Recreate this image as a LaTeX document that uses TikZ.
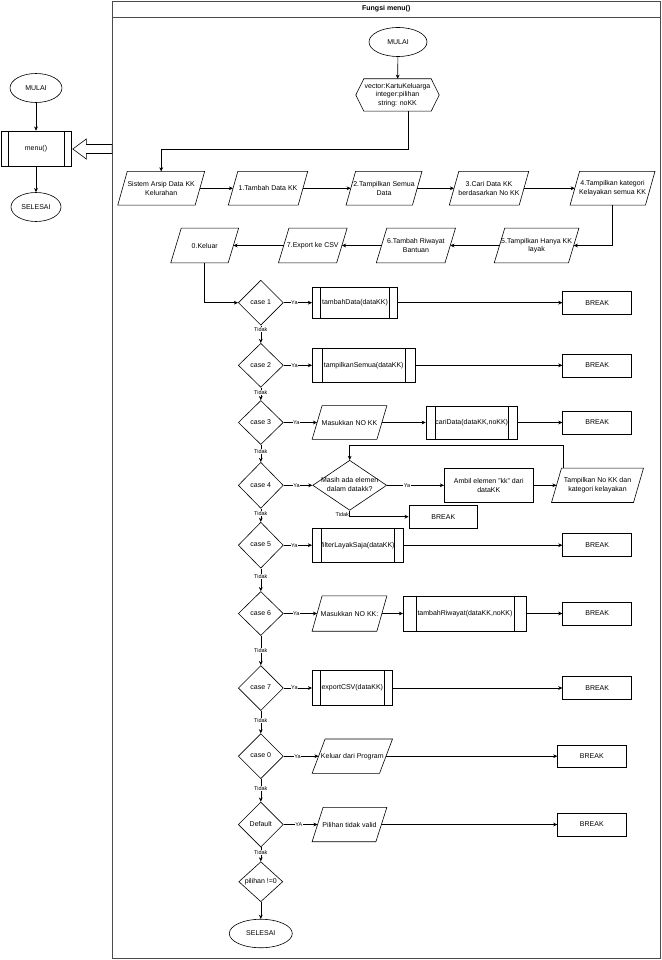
\documentclass[tikz,border=0pt]{standalone}
\usepackage{fontspec}
\setmainfont{Liberation Sans}
\usetikzlibrary{shapes.geometric,arrows.meta,calc}
\newcommand{\dtx}[1]{\makebox[0pt]{\begin{tabular}{@{}c@{}}#1\end{tabular}}}
\tikzset{
  base/.style={font=\fontsize{7}{8.5}\selectfont, inner sep=1pt, align=center, text=black},
  sz/.style 2 args={minimum width=#1, minimum height=#2},
  shp/.style={draw=black, line width=0.6pt},
  rbox/.style 2 args={base, rectangle, shp, sz={#1}{#2}},
  pbox/.style 2 args={base, rectangle, sz={#1}{#2}},
  hbox/.style 2 args={base, rectangle, sz={#1}{#2}},
  ell/.style 2 args={base, ellipse, shp, sz={#1}{#2}},
  dia/.style 2 args={base, diamond, shp, sz={#1}{#2}, inner sep=0pt},
  arr/.style={line width=0.6pt, -{Stealth[length=4.2pt,width=3.8pt]}},
  ln/.style={line width=0.6pt},
  lab/.style={font=\fontsize{5.5}{6}\selectfont, fill=white, inner sep=0.5pt, text=black},
  framebox/.style={draw=black!70, line width=0.9pt, inner sep=0pt},
}
\begin{document}
\begin{tikzpicture}[x=1pt,y=-1pt]
\useasboundingbox (0,0) rectangle (661,960);

% ---------- left column ----------
\node[ell={52}{29}] (mulaiL) at (36,88) {MULAI};
\node[rbox={70}{35}] (menuL) at (36,148.5) {menu()};
\node[ell={50}{29}] (selesaiL) at (36,207) {SELESAI};

% ---------- frame ----------
\node[framebox, sz={547.5}{957.5}] (frame) at (386.25,479.75) {};
\node[base, font=\bfseries\fontsize{7}{8.5}\selectfont] (title) at (386.25,9) {Fungsi menu()};
\draw[draw=black!70, line width=0.9pt] (frame.north west |- 0,17) -- (frame.north east |- 0,17);

% ---------- top ----------
\node[ell={58}{29}] (mulai) at (398,42) {MULAI};
\node[hbox={83}{32}] (vars) at (397.5,95) {vector:KartuKeluarga\\integer:pilihan\\string: noKK};

% ---------- menu rows ----------
\node[pbox={77}{33.3}] (p0) at (161.2,188.3) {Sistem Arsip Data KK\\Kelurahan};
\node[pbox={69.5}{33.3}] (p1) at (268,188.3) {1.Tambah Data KK};
\node[pbox={66}{33.3}] (p2) at (384,188.3) {2.Tampilkan Semua\\Data};
\node[pbox={69.5}{33.3}] (p3) at (489,188.3) {3.Cari Data KK\\berdasarkan No KK};
\node[pbox={75}{33.3}] (p4) at (612.5,188.3) {4.Tampilkan kategori\\Kelayakan semua KK};
\node[pbox={73.8}{34.4}] (p5) at (536.6,245.5) {5.Tampilkan Hanya KK\\layak};
\node[pbox={68.3}{34.4}] (p6) at (415.9,245.5) {6.Tambah Riwayat\\Bantuan};
\node[pbox={57.8}{34.4}] (p7) at (312.8,245.5) {7.Export ke CSV};
\node[pbox={57}{34.4}] (p8) at (204.7,245.5) {0.Keluar};

% ---------- case diamonds ----------
\node[dia={45}{45}] (c1) at (260.8,302.7) {\dtx{case 1}};
\node[dia={45}{44}] (c2) at (260.8,365.3) {\dtx{case 2}};
\node[dia={45}{44}] (c3) at (260.8,422.5) {\dtx{case 3}};
\node[dia={45}{46}] (c4) at (260.8,485.3) {\dtx{case 4}};
\node[dia={45}{46}] (c5) at (260.8,545.2) {\dtx{case 5}};
\node[dia={45}{44}] (c6) at (260.8,613.5) {\dtx{case 6}};
\node[dia={45}{45}] (c7) at (260.8,688) {\dtx{case 7}};
\node[dia={45}{45}] (c0) at (260.8,756.2) {\dtx{case 0}};
\node[dia={45}{45}] (cd) at (260.8,824.5) {\dtx{Default}};
\node[dia={44}{40}] (cp) at (260.8,881.7) {\dtx{pilihan !=0}};
\node[ell={63}{28.5}] (selesai) at (260.8,933.5) {SELESAI};

% ---------- row contents ----------
\node[rbox={85.4}{31.6}] (f1) at (355,302.7) {tambahData(dataKK)};
\node[rbox={69}{23}] (b1) at (597.2,302.7) {BREAK};

\node[rbox={102.7}{34}] (f2) at (363.7,365.3) {tampilkanSemua(dataKK)};
\node[rbox={69}{23}] (b2) at (597.2,365.3) {BREAK};

\node[pbox={64.4}{33.4}] (in3) at (349.5,422.5) {Masukkan NO KK};
\node[rbox={91.3}{33.4}] (f3) at (471.7,422.5) {cariData(dataKK,noKK)};
\node[rbox={69}{23}] (b3) at (597.2,422.5) {BREAK};

\node[dia={74}{50}] (d4) at (349.7,485.3) {\dtx{Masih ada elemen\\dalam datakk?}};
\node[rbox={89}{34}] (a4) at (488.8,485.3) {Ambil elemen "kk" dari\\dataKK};
\node[pbox={81.6}{34}] (t4) at (597.5,485.3) {Tampilkan No KK dan\\kategori kelayakan};
\node[rbox={68.7}{23.3}] (b4) at (443.3,516.7) {BREAK};

\node[rbox={91}{34.6}] (f5) at (357.8,545.2) {filterLayakSaja(dataKK)};
\node[rbox={69}{23}] (b5) at (597.2,545.2) {BREAK};

\node[pbox={64.4}{35}] (in6) at (349.5,613.5) {Masukkan NO KK:};
\node[rbox={123.4}{35}] (f6) at (465,613.5) {tambahRiwayat(dataKK,noKK)};
\node[rbox={69}{23}] (b6) at (597.2,613.5) {BREAK};

\node[rbox={80}{35}] (f7) at (352.3,688) {exportCSV(dataKK)};
\node[rbox={69}{23}] (b7) at (597.2,688) {BREAK};

\node[pbox={67}{34}] (o0) at (352.3,756.2) {Keluar dari Program};
\node[rbox={68.3}{22.7}] (b0) at (591.8,756.2) {BREAK};

\node[pbox={63.4}{34}] (od) at (349.5,824.5) {Pilihan tidak valid};
\node[rbox={68.3}{23.4}] (bd) at (591.8,824.5) {BREAK};

% ---------- shape outlines ----------
\foreach \n/\s in {p0/9.5,p1/9.5,p2/9.5,p3/9.5,p4/9.5,p5/10.5,p6/10.5,p7/10.5,p8/10.5,in3/10,in6/10,t4/10,o0/13,od/11}
  \draw[ln] ($(\n.north west)+(\s/2,0)$) -- ($(\n.north east)+(\s/2,0)$) -- ($(\n.south east)-(\s/2,0)$) -- ($(\n.south west)-(\s/2,0)$) -- cycle;
\foreach \n/\o in {menuL/7.5,f1/8.4,f2/10.4,f3/9.5,f5/9.2,f6/13,f7/8}
  \draw[ln] ($(\n.north west)+(\o,0)$) -- ($(\n.south west)+(\o,0)$) ($(\n.north east)-(\o,0)$) -- ($(\n.south east)-(\o,0)$);
\draw[ln] (vars.west) -- ($(vars.north west)+(8,0)$) -- ($(vars.north east)-(8,0)$) -- (vars.east) -- ($(vars.south east)-(8,0)$) -- ($(vars.south west)+(8,0)$) -- cycle;

% ---------- left connectors ----------
\draw[arr] (mulaiL) -- (menuL);
\draw[arr] (menuL) -- (selesaiL);
\coordinate (ha) at ($(menuL.east)+(1.5,0.5)$);
\draw[ln, fill=white] (ha) -- ++(13.5,-10) -- ++(0,5.5) -- ($(ha -| frame.west)+(0,-4.5)$) -- ++(0,9) -- ($(ha)+(13.5,4.5)$) -- ++(0,5.5) -- cycle;

% ---------- top connectors ----------
\draw[arr] (mulai) -- (vars);
\coordinate (k1) at (161.2,149);
\draw[arr] ([xshift=11pt]vars.south) |- (k1) -- (p0.north);
\draw[arr] (p0) -- (p1);
\draw[arr] (p1) -- (p2);
\draw[arr] (p2) -- (p3);
\draw[arr] (p3) -- (p4);
\draw[arr] (p4.south) |- (p5.east);
\draw[arr] (p5) -- (p6);
\draw[arr] (p6) -- (p7);
\draw[arr] (p7) -- (p8);
\draw[arr] (p8.south) |- (c1.west);

% ---------- Ya branches ----------
\draw[arr] (c1) -- node[lab,pos=0.38] (y1) {Ya} (f1);
\draw[arr] (f1) -- (b1);
\draw[arr] (c2) -- node[lab,pos=0.38] (y2) {Ya} (f2);
\draw[arr] (f2) -- (b2);
\draw[arr] (c3) -- node[lab,pos=0.38] (y3) {Ya} (in3);
\draw[arr] (in3) -- (f3);
\draw[arr] (f3) -- (b3);
\draw[arr] (c4) -- node[lab,pos=0.45] (y4) {Ya} (d4);
\draw[arr] (d4) -- node[lab,pos=0.35] (y4b) {Ya} (a4);
\draw[arr] (a4) -- (t4);
\draw[arr] ($(t4.north west)+(6.5,0)$) |- (d4.north |- 0,445) -- (d4.north);
\draw[arr] (d4.south) |- node[lab,pos=0.5,anchor=east,yshift=2pt] (n4b) {Tidak} (b4.west);
\draw[arr] (c5) -- node[lab,pos=0.38] (y5) {Ya} (f5);
\draw[arr] (f5) -- (b5);
\draw[arr] (c6) -- node[lab,pos=0.38] (y6) {Ya} (in6);
\draw[arr] (in6) -- (f6);
\draw[arr] (f6) -- (b6);
\draw[arr] (c7) -- node[lab,pos=0.38] (y7) {Ya} (f7);
\draw[arr] (f7) -- (b7);
\draw[arr] (c0) -- node[lab,pos=0.4] (y0) {Ya} (o0);
\draw[arr] (o0) -- (b0);
\draw[arr] (cd) -- node[lab,pos=0.45] (yd) {YA} (od);
\draw[arr] (od) -- (bd);

% ---------- Tidak chain ----------
\draw[arr] (c1) -- node[lab,pos=0.25] (n1) {Tidak} (c2);
\draw[arr] (c2) -- node[lab,pos=0.42] (n2) {Tidak} (c3);
\draw[arr] (c3) -- node[lab,pos=0.4] (n3) {Tidak} (c4);
\draw[arr] (c4) -- node[lab,pos=0.36] (n4) {Tidak} (c5);
\draw[arr] (c5) -- node[lab,pos=0.36] (n5) {Tidak} (c6);
\draw[arr] (c6) -- node[lab,pos=0.5] (n6) {Tidak} (c7);
\draw[arr] (c7) -- node[lab,pos=0.42] (n7) {Tidak} (c0);
\draw[arr] (c0) -- node[lab,pos=0.43] (n0) {Tidak} (cd);
\draw[arr] (cd) -- node[lab,pos=0.4] (nd) {Tidak} (cp);
\draw[arr] (cp) -- (selesai);
\end{tikzpicture}
\end{document}
